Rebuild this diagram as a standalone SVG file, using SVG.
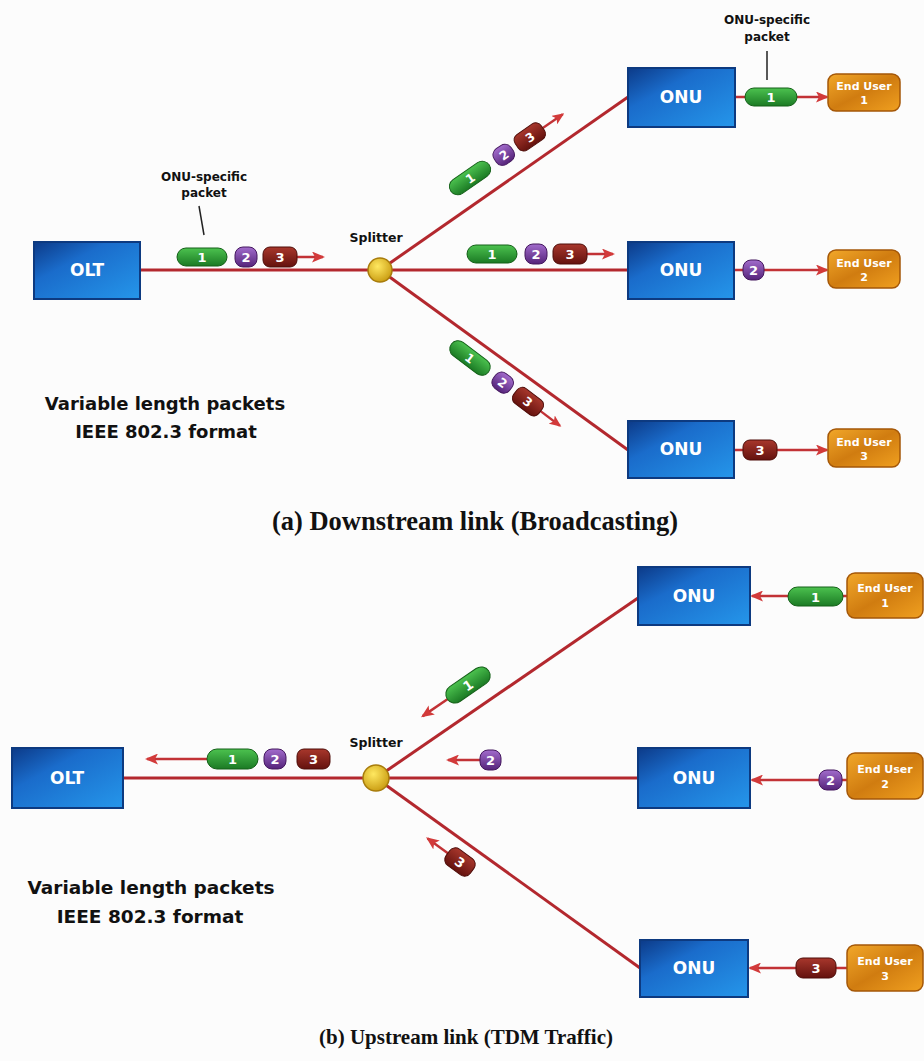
<svg xmlns="http://www.w3.org/2000/svg" xmlns:xlink="http://www.w3.org/1999/xlink" width="924" height="1061" viewBox="0 0 924 1061">
<style>
.box{stroke:#0d3a80;stroke-width:2}
.eu{stroke:#a45708;stroke-width:1.5}
.wl{fill:#fff;font-family:"DejaVu Sans","Open Sans",sans-serif;font-weight:bold;text-anchor:middle}
.big{font-size:17px}
.eut{font-size:11px}
.pt{font-size:13px}
.lbl{fill:#111;font-family:"DejaVu Sans","Open Sans",sans-serif;font-weight:bold;text-anchor:middle}
.cap{fill:#111;font-family:"Liberation Serif","Times New Roman",serif;font-weight:bold;text-anchor:middle}
.link{stroke:#b3282e;stroke-width:3;fill:none}
.arr{stroke:#c23236;stroke-width:2.5;fill:none}
.tick{stroke:#222;stroke-width:1.5}
</style>
<defs>
<linearGradient id="gBlue" x1="0" y1="0" x2="1" y2="1">
<stop offset="0" stop-color="#0c3a88"/><stop offset="0.35" stop-color="#1a6ccb"/><stop offset="1" stop-color="#2596ea"/>
</linearGradient>
<linearGradient id="gOr" x1="0" y1="0" x2="1" y2="1">
<stop offset="0" stop-color="#f2a82a"/><stop offset="0.5" stop-color="#d07c10"/><stop offset="1" stop-color="#f0a020"/>
</linearGradient>
<linearGradient id="gGr" x1="0" y1="0" x2="0" y2="1">
<stop offset="0" stop-color="#4cc24f"/><stop offset="1" stop-color="#1b7a24"/>
</linearGradient>
<linearGradient id="gPu" x1="0" y1="0" x2="0" y2="1">
<stop offset="0" stop-color="#a26ccc"/><stop offset="1" stop-color="#55247a"/>
</linearGradient>
<linearGradient id="gRd" x1="0" y1="0" x2="0" y2="1">
<stop offset="0" stop-color="#a8372c"/><stop offset="1" stop-color="#64120e"/>
</linearGradient>
<radialGradient id="gSp" cx="0.4" cy="0.35" r="0.7">
<stop offset="0" stop-color="#ffe860"/><stop offset="1" stop-color="#c89a10"/>
</radialGradient>
<marker id="ah" markerUnits="userSpaceOnUse" markerWidth="13" markerHeight="11" viewBox="0 0 13 11" refX="11" refY="5.5" orient="auto">
<path d="M0,0 L13,5.5 L0,11 L3,5.5 z" fill="#d23a3a"/>
</marker>
<g id="pk3">
<line class="arr" x1="95" y1="0" x2="121" y2="0" marker-end="url(#ah)"/>
<rect x="-25" y="-9" width="50" height="18" rx="9" fill="url(#gGr)" stroke="#146018"/>
<text class="wl pt" x="0" y="5">1</text>
<rect x="33" y="-10" width="22" height="20" rx="8" fill="url(#gPu)" stroke="#45185f"/>
<text class="wl pt" x="44" y="5">2</text>
<rect x="61" y="-10" width="34" height="20" rx="7" fill="url(#gRd)" stroke="#4e0c08"/>
<text class="wl pt" x="78" y="5">3</text>
</g>
</defs>
<rect width="924" height="1061" fill="#fcfcfc"/>

<g id="connectors">
<line class="link" x1="140" y1="270" x2="380" y2="270"/>
<line class="link" x1="380" y1="270" x2="628" y2="97"/>
<line class="link" x1="380" y1="270" x2="628" y2="270"/>
<line class="link" x1="380" y1="270" x2="628" y2="450"/>
<line class="arr" x1="735" y1="97" x2="827" y2="97" marker-end="url(#ah)"/>
<line class="arr" x1="734" y1="270" x2="827" y2="270" marker-end="url(#ah)"/>
<line class="arr" x1="734" y1="450" x2="827" y2="450" marker-end="url(#ah)"/>

<line class="link" x1="123" y1="778" x2="376" y2="778"/>
<line class="link" x1="376" y1="778" x2="638" y2="598"/>
<line class="link" x1="376" y1="778" x2="638" y2="778"/>
<line class="link" x1="376" y1="778" x2="640" y2="968"/>
<line class="arr" x1="847" y1="596" x2="752" y2="596" marker-end="url(#ah)"/>
<line class="arr" x1="847" y1="780" x2="752" y2="780" marker-end="url(#ah)"/>
<line class="arr" x1="847" y1="968" x2="750" y2="968" marker-end="url(#ah)"/>
</g>

<!-- (a) downstream -->
<g id="olt-a">
<rect class="box" x="34" y="242" width="106" height="57" fill="url(#gBlue)"/>
<text class="wl big" x="87" y="276">OLT</text>
</g>
<g id="splitter-a">
<circle cx="380" cy="270" r="12" fill="url(#gSp)" stroke="#a87c0c" stroke-width="1.5"/>
<text class="lbl" x="376" y="242" font-size="12.5">Splitter</text>
</g>
<g id="onu-a1">
<rect class="box" x="628" y="68" width="107" height="59" fill="url(#gBlue)"/>
<text class="wl big" x="681" y="103">ONU</text>
</g>
<g id="onu-a2">
<rect class="box" x="628" y="242" width="106" height="57" fill="url(#gBlue)"/>
<text class="wl big" x="681" y="276">ONU</text>
</g>
<g id="onu-a3">
<rect class="box" x="628" y="421" width="106" height="57" fill="url(#gBlue)"/>
<text class="wl big" x="681" y="455">ONU</text>
</g>
<g id="eu-a1">
<rect class="eu" x="828" y="74" width="72" height="37" rx="8" fill="url(#gOr)"/>
<text class="wl eut" x="864" y="90">End User</text>
<text class="wl eut" x="864" y="104">1</text>
</g>
<g id="eu-a2">
<rect class="eu" x="828" y="250" width="72" height="38" rx="8" fill="url(#gOr)"/>
<text class="wl eut" x="864" y="267">End User</text>
<text class="wl eut" x="864" y="281">2</text>
</g>
<g id="eu-a3">
<rect class="eu" x="828" y="429" width="72" height="38" rx="8" fill="url(#gOr)"/>
<text class="wl eut" x="864" y="446">End User</text>
<text class="wl eut" x="864" y="460">3</text>
</g>

<g id="packets-a">
<use xlink:href="#pk3" href="#pk3" transform="translate(202,257)"/>
<use xlink:href="#pk3" href="#pk3" transform="translate(492,254)"/>
<use xlink:href="#pk3" href="#pk3" transform="translate(470,178) rotate(-34.5) scale(0.93)"/>
<use xlink:href="#pk3" href="#pk3" transform="translate(470,358) rotate(37) scale(0.93)"/>
<rect x="745" y="88" width="52" height="18" rx="9" fill="url(#gGr)" stroke="#146018"/>
<text class="wl pt" x="771" y="102">1</text>
<rect x="743" y="260" width="21" height="20" rx="8" fill="url(#gPu)" stroke="#45185f"/>
<text class="wl pt" x="753.5" y="275">2</text>
<rect x="743" y="440" width="34" height="20" rx="7" fill="url(#gRd)" stroke="#4e0c08"/>
<text class="wl pt" x="760" y="455">3</text>
</g>

<g id="labels-a">
<text class="lbl" font-size="12" x="204" y="181">ONU-specific</text>
<text class="lbl" font-size="12" x="204" y="197">packet</text>
<line class="tick" x1="199" y1="206" x2="204" y2="235"/>
<text class="lbl" font-size="12" x="767" y="24">ONU-specific</text>
<text class="lbl" font-size="12" x="767" y="41">packet</text>
<line class="tick" x1="767" y1="51" x2="767" y2="80"/>
<text class="lbl" font-size="18" x="165" y="410">Variable length packets</text>
<text class="lbl" font-size="18" x="166" y="438">IEEE 802.3 format</text>
<text class="cap" font-size="26.5" x="475" y="530">(a)  Downstream link (Broadcasting)</text>
</g>

<!-- (b) upstream -->
<g id="olt-b">
<rect class="box" x="12" y="748" width="111" height="60" fill="url(#gBlue)"/>
<text class="wl big" x="67" y="784">OLT</text>
</g>
<g id="splitter-b">
<circle cx="376" cy="778" r="13" fill="url(#gSp)" stroke="#a87c0c" stroke-width="1.5"/>
<text class="lbl" x="376" y="747" font-size="12.5">Splitter</text>
</g>
<g id="onu-b1">
<rect class="box" x="638" y="567" width="112" height="58" fill="url(#gBlue)"/>
<text class="wl big" x="694" y="602">ONU</text>
</g>
<g id="onu-b2">
<rect class="box" x="638" y="748" width="112" height="60" fill="url(#gBlue)"/>
<text class="wl big" x="694" y="784">ONU</text>
</g>
<g id="onu-b3">
<rect class="box" x="640" y="940" width="108" height="57" fill="url(#gBlue)"/>
<text class="wl big" x="694" y="974">ONU</text>
</g>
<g id="eu-b1">
<rect class="eu" x="847" y="573" width="76" height="45" rx="8" fill="url(#gOr)"/>
<text class="wl eut" x="885" y="592">End User</text>
<text class="wl eut" x="885" y="607">1</text>
</g>
<g id="eu-b2">
<rect class="eu" x="847" y="753" width="76" height="46" rx="8" fill="url(#gOr)"/>
<text class="wl eut" x="885" y="773">End User</text>
<text class="wl eut" x="885" y="788">2</text>
</g>
<g id="eu-b3">
<rect class="eu" x="847" y="945" width="76" height="46" rx="8" fill="url(#gOr)"/>
<text class="wl eut" x="885" y="965">End User</text>
<text class="wl eut" x="885" y="980">3</text>
</g>

<g id="packets-b">
<line class="arr" x1="207" y1="759" x2="147" y2="759" marker-end="url(#ah)"/>
<rect x="207" y="749" width="51" height="20" rx="10" fill="url(#gGr)" stroke="#146018"/>
<text class="wl pt" x="232.5" y="764">1</text>
<rect x="264" y="749" width="22" height="20" rx="8" fill="url(#gPu)" stroke="#45185f"/>
<text class="wl pt" x="275" y="764">2</text>
<rect x="297" y="749" width="33" height="20" rx="7" fill="url(#gRd)" stroke="#4e0c08"/>
<text class="wl pt" x="313.5" y="764">3</text>

<line class="arr" x1="480" y1="760" x2="448" y2="760" marker-end="url(#ah)"/>
<rect x="480" y="750" width="21" height="20" rx="8" fill="url(#gPu)" stroke="#45185f"/>
<text class="wl pt" x="490.5" y="765">2</text>

<g transform="translate(468,685) rotate(-34.5)">
<line class="arr" x1="-25" y1="0" x2="-55" y2="0" marker-end="url(#ah)"/>
<rect x="-25" y="-9" width="50" height="18" rx="9" fill="url(#gGr)" stroke="#146018"/>
<text class="wl pt" x="0" y="5">1</text>
</g>
<g transform="translate(460,862) rotate(36)">
<line class="arr" x1="-15" y1="0" x2="-40" y2="0" marker-end="url(#ah)"/>
<rect x="-15" y="-10" width="30" height="20" rx="7" fill="url(#gRd)" stroke="#4e0c08"/>
<text class="wl pt" x="0" y="5">3</text>
</g>

<rect x="788" y="587" width="55" height="19" rx="9.5" fill="url(#gGr)" stroke="#146018"/>
<text class="wl pt" x="815.5" y="601.5">1</text>
<rect x="819" y="770" width="23" height="20" rx="8" fill="url(#gPu)" stroke="#45185f"/>
<text class="wl pt" x="830.5" y="785">2</text>
<rect x="796" y="958" width="40" height="20" rx="7" fill="url(#gRd)" stroke="#4e0c08"/>
<text class="wl pt" x="816" y="973">3</text>
</g>

<g id="labels-b">
<text class="lbl" font-size="18.5" x="151" y="894">Variable length packets</text>
<text class="lbl" font-size="18.5" x="150" y="923">IEEE 802.3 format</text>
<text class="cap" font-size="21" x="466" y="1044">(b)  Upstream link (TDM Traffic)</text>
</g>
</svg>
